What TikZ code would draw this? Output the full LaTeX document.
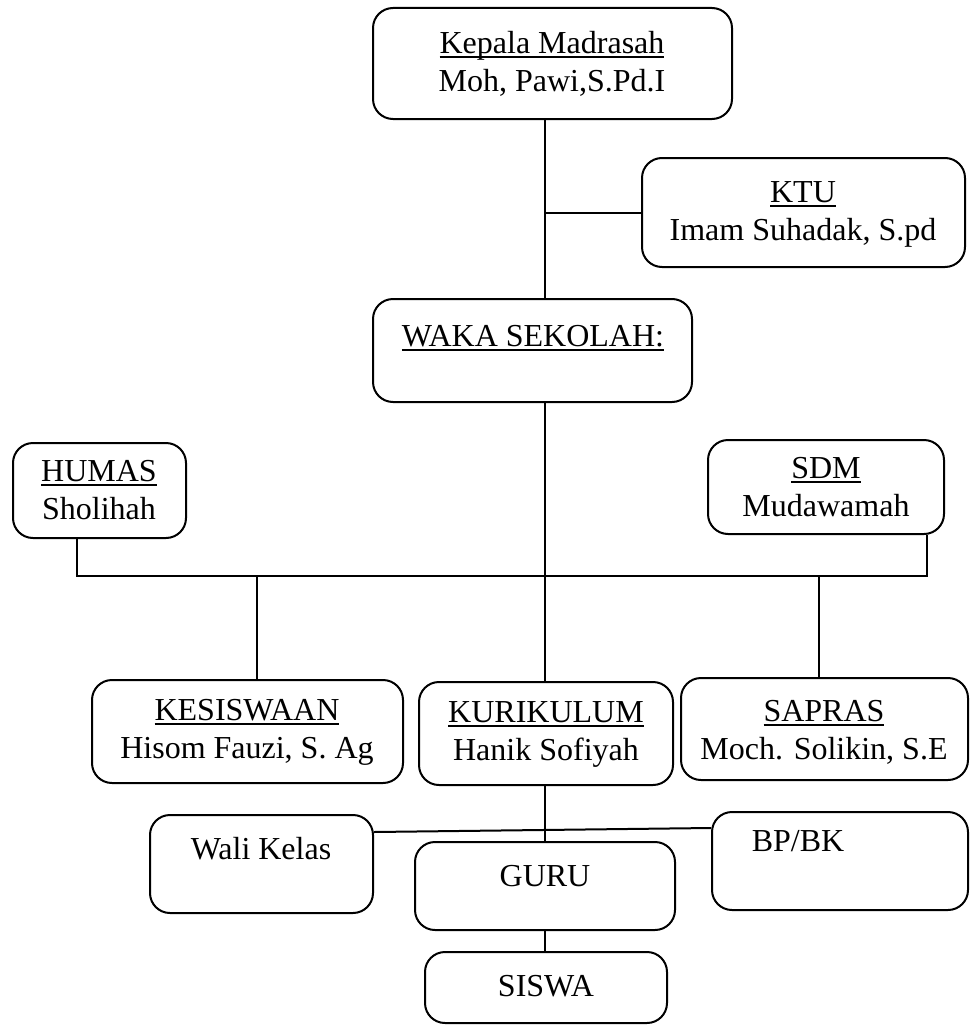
\documentclass[tikz,border=0pt]{standalone}
\usepackage{fontspec}
\setmainfont{Liberation Serif}
\newcommand{\ulx}[1]{\setbox0\hbox{#1}\leavevmode\rlap{\rule[-4.5pt]{\wd0}{1.8pt}}\box0}
\begin{document}
\begin{tikzpicture}[x=1pt,y=-1pt,
  box/.style={draw,line width=2pt,rounded corners=20pt,inner sep=0pt},
  lbl/.style={align=center,inner sep=0pt,font=\fontsize{32}{38}\selectfont},
  conn/.style={line width=2pt}]
\useasboundingbox (0,0) rectangle (969,1025);
% boxes
\node[box,minimum width=359pt,minimum height=111pt] (kepala) at (552.5,63.5) {};
\node[box,minimum width=323pt,minimum height=109pt] (ktu) at (803.5,212.5) {};
\node[box,minimum width=319pt,minimum height=103pt] (waka) at (532.5,350.5) {};
\node[box,minimum width=173pt,minimum height=95pt] (humas) at (99.5,490.5) {};
\node[box,minimum width=236pt,minimum height=94pt] (sdm) at (826,487) {};
\node[box,minimum width=311pt,minimum height=103pt] (kes) at (247.5,731.5) {};
\node[box,minimum width=254pt,minimum height=103pt] (kur) at (546,733.5) {};
\node[box,minimum width=287pt,minimum height=102pt] (sapras) at (824.5,729) {};
\node[box,minimum width=223pt,minimum height=98pt] (wali) at (261.5,864) {};
\node[box,minimum width=256pt,minimum height=98pt] (bpbk) at (840,861) {};
\node[box,minimum width=260pt,minimum height=88pt] (guru) at (545,886) {};
\node[box,minimum width=242pt,minimum height=71pt] (siswa) at (546,987.5) {};
% labels
\node[lbl] (kepalaT) at (552,64) {\ulx{Kepala Madrasah}\\Moh, Pawi,S.Pd.I};
\node[lbl] (ktuT) at (803,214) {\ulx{KTU}\\Imam Suhadak, S.pd};
\node[lbl,anchor=base] (wakaT) at (533,346) {\ulx{WAKA SEKOLAH:}};
\node[lbl] (humasT) at (99,490) {\ulx{HUMAS}\\Sholihah};
\node[lbl] (sdmT) at (826,487) {\ulx{SDM}\\Mudawamah};
\node[lbl] (kesT) at (247,732) {\ulx{KESISWAAN}\\Hisom Fauzi, S. Ag};
\node[lbl] (kurT) at (546,734) {\ulx{KURIKULUM}\\Hanik Sofiyah};
\node[lbl] (saprasT) at (824,732) {\ulx{SAPRAS}\\Moch. Solikin, S.E};
\node[lbl,anchor=base] (waliT) at (261,859) {Wali Kelas};
\node[lbl,anchor=base] (bpbkT) at (798,851) {BP/BK};
\node[lbl,anchor=base] (guruT) at (545,886) {GURU};
\node[lbl,anchor=base] (siswaT) at (546,996) {SISWA};
% connectors
\coordinate (spine) at (545,0);
\coordinate (busL) at (77,576);
\coordinate (busR) at (927,576);
\coordinate (kesx) at (257,576);
\coordinate (sapx) at (819,576);
\draw[conn] (kepala.south -| spine) -- (waka.north -| spine);
\draw[conn] (ktu.west) -- (ktu.west -| spine);
\draw[conn] (waka.south -| spine) -- (kur.north -| spine);
\draw[conn] (humas.south -| busL) -- (busL) -- (busR) -- (sdm.south -| busR);
\draw[conn] (kesx) -- (kes.north -| kesx);
\draw[conn] (sapx) -- (sapras.north -| sapx);
\draw[conn] (kur.south -| spine) -- (guru.north -| spine);
\draw[conn] (guru.south -| spine) -- (siswa.north -| spine);
\draw[conn] (wali.east |- 0,832) -- (bpbk.west |- 0,828);
\end{tikzpicture}
\end{document}
